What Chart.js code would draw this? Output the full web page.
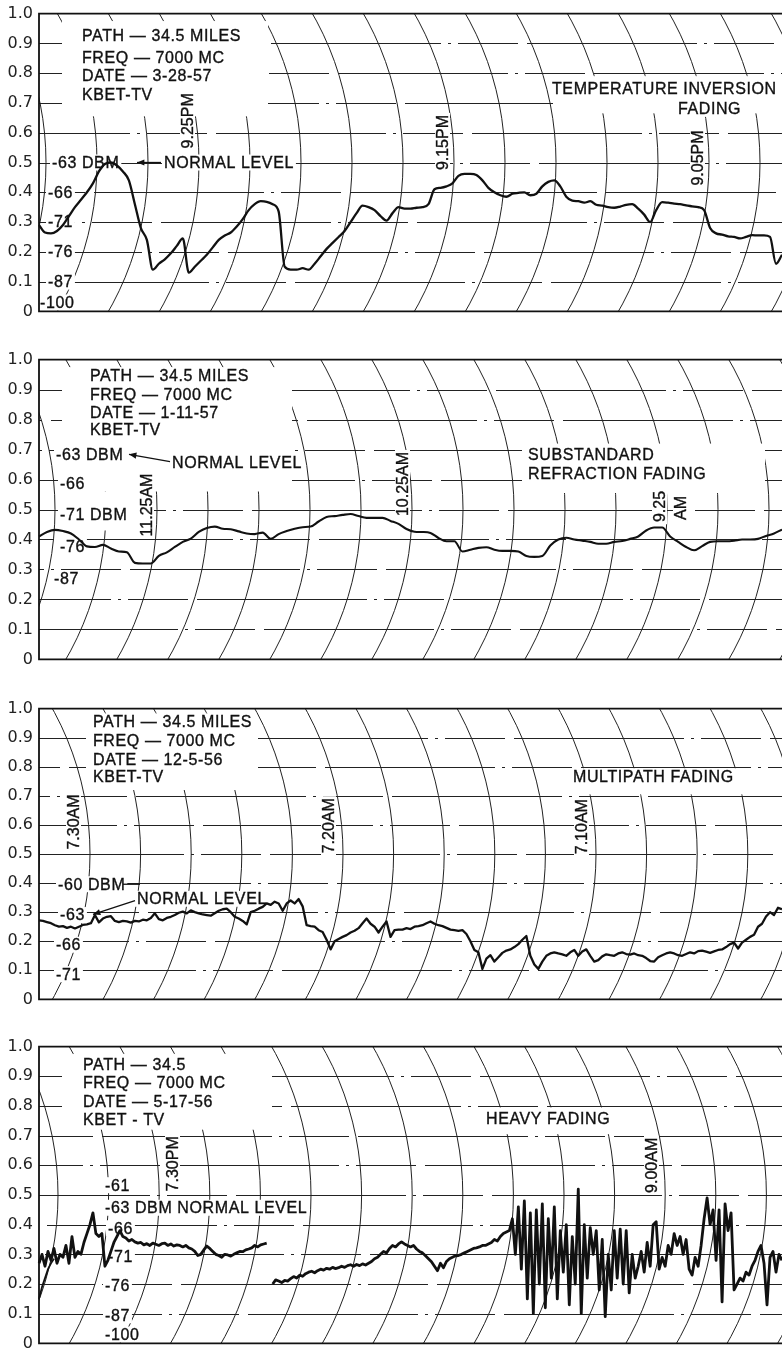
<!DOCTYPE html>
<html lang="en">
<head>
<meta charset="UTF-8">
<title>KBET-TV 7000 MC fading records</title>
<script src="https://cdn.jsdelivr.net/npm/chart.js"></script>
<style>
  html, body { margin: 0; padding: 0; background: #fff; }
  #page { position: relative; width: 782px; height: 1351px; overflow: hidden; background: #fff; }
  canvas { position: absolute; left: 0; }
</style>
</head>
<body>
<div id="page">
  <canvas id="c1"></canvas>
  <canvas id="c2"></canvas>
  <canvas id="c3"></canvas>
  <canvas id="c4"></canvas>
</div>
<script>
const p1Level = [0.29,0.265,0.262,0.27,0.29,0.32,0.35,0.375,0.40,0.43,
  0.47,0.495,0.50,0.49,0.47,0.44,0.36,0.28,0.24,0.14,
  0.16,0.175,0.195,0.22,0.245,0.13,0.15,0.17,0.19,0.215,
  0.24,0.255,0.265,0.285,0.31,0.34,0.36,0.37,0.368,0.36,
  0.335,0.15,0.14,0.14,0.145,0.14,0.16,0.185,0.21,0.23,
  0.25,0.27,0.30,0.33,0.355,0.35,0.34,0.32,0.305,0.33,
  0.35,0.345,0.345,0.348,0.35,0.36,0.41,0.415,0.42,0.43,
  0.455,0.462,0.462,0.458,0.44,0.415,0.40,0.39,0.385,0.395,
  0.398,0.40,0.39,0.395,0.42,0.435,0.44,0.42,0.385,0.372,
  0.37,0.365,0.37,0.358,0.355,0.35,0.348,0.352,0.358,0.36,
  0.345,0.325,0.30,0.34,0.367,0.365,0.362,0.36,0.356,0.353,
  0.35,0.34,0.28,0.262,0.258,0.252,0.25,0.245,0.25,0.256,
  0.255,0.255,0.25,0.16,0.19];

const p2Level = [0.41,0.425,0.432,0.428,0.42,0.40,0.377,0.375,0.382,0.37,
  0.36,0.357,0.322,0.32,0.32,0.345,0.357,0.375,0.392,0.403,
  0.425,0.438,0.443,0.436,0.434,0.427,0.42,0.418,0.423,0.402,
  0.418,0.428,0.436,0.441,0.443,0.46,0.475,0.478,0.482,0.485,
  0.478,0.472,0.472,0.472,0.462,0.452,0.435,0.426,0.425,0.422,
  0.405,0.394,0.394,0.36,0.366,0.372,0.374,0.366,0.362,0.362,
  0.36,0.345,0.342,0.345,0.38,0.40,0.406,0.40,0.396,0.392,
  0.386,0.386,0.392,0.395,0.402,0.41,0.43,0.44,0.44,0.41,
  0.392,0.375,0.364,0.378,0.392,0.394,0.394,0.396,0.40,0.40,
  0.402,0.412,0.42,0.433];

const p3Level = [0.272,0.27,0.266,0.262,0.255,0.25,0.252,0.246,0.25,0.244,
  0.25,0.256,0.258,0.262,0.29,0.265,0.278,0.284,0.286,0.27,
  0.266,0.27,0.268,0.264,0.27,0.268,0.274,0.272,0.28,0.296,
  0.276,0.272,0.28,0.284,0.29,0.298,0.302,0.296,0.306,0.30,
  0.296,0.292,0.29,0.288,0.296,0.305,0.31,0.312,0.30,0.284,
  0.278,0.27,0.258,0.30,0.305,0.312,0.318,0.33,0.325,0.336,
  0.33,0.305,0.33,0.34,0.33,0.345,0.32,0.255,0.252,0.25,
  0.238,0.232,0.205,0.172,0.20,0.208,0.215,0.221,0.23,0.236,
  0.245,0.262,0.278,0.26,0.25,0.23,0.25,0.268,0.215,0.238,
  0.24,0.24,0.245,0.242,0.25,0.252,0.255,0.262,0.268,0.26,
  0.255,0.252,0.246,0.24,0.238,0.236,0.238,0.225,0.20,0.17,
  0.162,0.105,0.14,0.152,0.13,0.145,0.16,0.168,0.172,0.18,
  0.19,0.205,0.218,0.15,0.12,0.105,0.13,0.15,0.158,0.162,
  0.158,0.155,0.15,0.162,0.17,0.15,0.165,0.172,0.15,0.13,
  0.135,0.148,0.155,0.152,0.15,0.158,0.162,0.156,0.154,0.158,
  0.152,0.15,0.142,0.132,0.13,0.145,0.152,0.158,0.162,0.158,
  0.152,0.15,0.156,0.162,0.158,0.166,0.168,0.164,0.16,0.165,
  0.17,0.172,0.18,0.19,0.195,0.175,0.195,0.205,0.215,0.222,
  0.25,0.26,0.285,0.30,0.29,0.315,0.31];

const p4Level = [0.27,0.30,0.26,0.31,0.28,0.32,0.27,0.30,0.29,0.33,
  0.27,0.36,0.29,0.31,0.30,0.34,0.37,0.40,0.44,0.37,
  0.36,0.37,0.26,0.28,0.31,0.34,0.36,0.38,0.36,0.355,
  0.345,0.35,0.342,0.338,0.34,0.332,0.336,0.33,0.338,0.334,
  0.33,0.336,0.338,0.33,0.335,0.328,0.332,0.33,0.325,0.33,
  0.322,0.318,0.31,0.296,0.30,0.315,0.328,0.32,0.31,0.30,
  0.296,0.29,0.30,0.298,0.294,0.30,0.305,0.31,0.309,0.315,
  0.318,0.322,0.33,0.325,0.332,0.335,0.338,null,0.20,0.214,
  0.21,0.205,0.212,0.21,0.218,0.225,0.22,0.23,0.226,0.235,
  0.24,0.243,0.238,0.245,0.25,0.247,0.253,0.25,0.256,0.252,
  0.255,0.26,0.256,0.262,0.265,0.26,0.266,0.262,0.268,0.264,
  0.27,0.276,0.285,0.29,0.30,0.31,0.305,0.32,0.33,0.325,
  0.335,0.342,0.335,0.33,0.325,0.33,0.318,0.31,0.305,0.295,
  0.285,0.275,0.26,0.245,0.27,0.255,0.276,0.285,0.29,0.295,
  0.296,0.30,0.305,0.31,0.315,0.32,0.322,0.325,0.33,0.33,
  0.335,0.34,0.35,0.345,0.36,0.37,0.375,0.38,0.42,0.30,
  0.46,0.25,0.48,0.15,0.44,0.10,0.45,0.20,0.47,0.12,
  0.42,0.22,0.46,0.15,0.38,0.24,0.40,0.13,0.36,0.20,
  0.52,0.10,0.40,0.22,0.39,0.30,0.38,0.18,0.35,0.09,
  0.30,0.18,0.38,0.22,0.385,0.20,0.38,0.17,0.30,0.22,
  0.26,0.31,0.24,0.34,0.26,0.40,0.41,0.25,0.29,0.26,
  0.33,0.30,0.37,0.33,0.36,0.30,0.35,0.25,0.23,0.29,
  0.26,0.33,0.42,0.49,0.40,0.45,0.28,0.45,0.14,0.47,
  0.38,0.44,0.18,0.20,0.22,0.21,0.24,0.23,0.26,0.28,
  0.31,0.33,0.27,0.13,0.29,0.31,0.24,0.30,0.28];
// pen lead-in at the start of the last strip
const p4LeadIn = [0.15,0.19,0.22,0.25,0.27,0.285];

const gridValues = [0.1,0.2,0.3,0.4,0.5,0.6,0.7,0.8,0.9];

// annotations (x in page px, v on the 0-1 scale)
const p1Notes = [
  {t:'PATH — 34.5 MILES', x:82, v:0.925},
  {t:'FREQ — 7000 MC', x:82, v:0.852},
  {t:'DATE — 3-28-57', x:82, v:0.793},
  {t:'KBET-TV', x:82, v:0.728},
  {t:'-63 DBM', x:52, v:0.5},
  {t:'NORMAL LEVEL', x:164, v:0.5},
  {t:'-66', x:48, v:0.4},
  {t:'-71', x:48, v:0.3},
  {t:'-76', x:48, v:0.2},
  {t:'-87', x:48, v:0.1},
  {t:'-100', x:40, v:0.03},
  {t:'9.25PM', x:188, v:0.64, rot:true},
  {t:'9.15PM', x:443, v:0.567, rot:true},
  {t:'9.05PM', x:698, v:0.515, rot:true},
  {t:'TEMPERATURE INVERSION', x:552, v:0.748},
  {t:'FADING', x:678, v:0.68}
];
const p2Notes = [
  {t:'PATH — 34.5 MILES', x:90, v:0.945},
  {t:'FREQ — 7000 MC', x:90, v:0.883},
  {t:'DATE — 1-11-57', x:90, v:0.824},
  {t:'KBET-TV', x:90, v:0.765},
  {t:'-63 DBM', x:56, v:0.684},
  {t:'NORMAL LEVEL', x:172, v:0.655},
  {t:'-66', x:60, v:0.586},
  {t:'-71 DBM', x:60, v:0.482},
  {t:'-76', x:60, v:0.375},
  {t:'-87', x:54, v:0.27},
  {t:'11.25AM', x:147, v:0.515, rot:true},
  {t:'10.25AM', x:403, v:0.585, rot:true},
  {t:'SUBSTANDARD', x:528, v:0.684},
  {t:'REFRACTION FADING', x:528, v:0.619},
  {t:'9.25', x:660, v:0.51, rot:true},
  {t:'AM', x:681, v:0.505, rot:true}
];
const p3Notes = [
  {t:'PATH — 34.5 MILES', x:93, v:0.956},
  {t:'FREQ — 7000 MC', x:93, v:0.889},
  {t:'DATE — 12-5-56', x:93, v:0.826},
  {t:'KBET-TV', x:93, v:0.765},
  {t:'7.30AM', x:74, v:0.61, rot:true},
  {t:'7.20AM', x:329, v:0.597, rot:true},
  {t:'7.10AM', x:582, v:0.594, rot:true},
  {t:'MULTIPATH FADING', x:573, v:0.765},
  {t:'-60 DBM', x:58, v:0.396},
  {t:'NORMAL LEVEL', x:137, v:0.346},
  {t:'-63', x:60, v:0.29},
  {t:'-66', x:56, v:0.188},
  {t:'-71', x:56, v:0.087}
];
const p4Notes = [
  {t:'PATH — 34.5', x:83, v:0.941},
  {t:'FREQ — 7000 MC', x:83, v:0.878},
  {t:'DATE — 5-17-56', x:83, v:0.815},
  {t:'KBET - TV', x:83, v:0.753},
  {t:'7.30PM', x:173, v:0.605, rot:true},
  {t:'-61', x:105, v:0.533},
  {t:'-63 DBM NORMAL LEVEL', x:105, v:0.457},
  {t:'-66', x:108, v:0.388},
  {t:'-71', x:108, v:0.293},
  {t:'-76', x:105, v:0.194},
  {t:'-87', x:105, v:0.095},
  {t:'-100', x:105, v:0.03},
  {t:'HEAVY FADING', x:486, v:0.757},
  {t:'9.00AM', x:652, v:0.6, rot:true}
];

const ink = '#111';
const arcRadius = 300;

function paper(cfg) {
  return {
    id: 'paper' + cfg.id,
    beforeDatasetsDraw(chart) {
      const ctx = chart.ctx, a = chart.chartArea, y = chart.scales.y;
      ctx.save();
      ctx.strokeStyle = '#222';
      ctx.lineWidth = 1;
      // horizontal chart-paper lines
      gridValues.forEach((v, i) => {
        const py = Math.round(y.getPixelForValue(v)) + 0.5;
        ctx.setLineDash([170, 7, 3, 7, 60, 9]);
        ctx.lineDashOffset = i * 67 + cfg.dashShift;
        ctx.beginPath();
        ctx.moveTo(a.left, py);
        ctx.lineTo(a.right, py);
        ctx.stroke();
      });
      ctx.setLineDash([]);
      // curved time lines
      ctx.save();
      ctx.beginPath();
      ctx.rect(a.left, a.top, a.right - a.left, a.bottom - a.top);
      ctx.clip();
      const cy = y.getPixelForValue(0.5);
      for (let bx = cfg.arcStart; bx < a.right + 60; bx += cfg.arcStep) {
        ctx.beginPath();
        ctx.arc(bx - arcRadius, cy, arcRadius, -Math.PI / 2, Math.PI / 2);
        ctx.stroke();
      }
      ctx.restore();
      // erased areas round the lettering
      ctx.fillStyle = '#fff';
      cfg.masks.forEach(m => {
        const t = y.getPixelForValue(m[2]), b = y.getPixelForValue(m[3]);
        ctx.fillRect(m[0], t, m[1] - m[0], b - t);
      });
      // lettering
      ctx.textBaseline = 'middle';
      ctx.lineWidth = 0.35;
      ctx.strokeStyle = ink;
      cfg.notes.forEach(n => {
        const py = y.getPixelForValue(n.v);
        ctx.font = n.rot ? '16px "Liberation Sans", Arial, sans-serif' : '16px "Liberation Sans", Arial, sans-serif';
        ctx.letterSpacing = n.rot ? '0px' : '0.6px';
        const w = ctx.measureText(n.t).width;
        if (n.rot) {
          ctx.save();
          ctx.translate(n.x, py);
          ctx.rotate(-Math.PI / 2);
          ctx.fillStyle = '#fff';
          ctx.fillRect(-w / 2 - 2, -8, w + 4, 15);
          ctx.fillStyle = ink;
          ctx.textAlign = 'center';
          ctx.fillText(n.t, 0, 1);
          ctx.strokeText(n.t, 0, 1);
          ctx.restore();
        } else {
          ctx.fillStyle = '#fff';
          ctx.fillRect(n.x - 2, py - 8, w + 4, 16);
          ctx.fillStyle = ink;
          ctx.textAlign = 'left';
          ctx.fillText(n.t, n.x, py + 1);
          ctx.strokeText(n.t, n.x, py + 1);
        }
      });
      ctx.letterSpacing = '0px';
      // leader lines and arrows
      ctx.fillStyle = ink;
      ctx.lineWidth = 1.3;
      cfg.leaders.forEach(l => {
        const y1 = y.getPixelForValue(l[1]), y2 = y.getPixelForValue(l[3]);
        ctx.beginPath();
        ctx.moveTo(l[0], y1);
        ctx.lineTo(l[2], y2);
        ctx.stroke();
        if (l[4]) {
          const ang = Math.atan2(y2 - y1, l[2] - l[0]);
          ctx.beginPath();
          ctx.moveTo(l[2], y2);
          ctx.lineTo(l[2] - 8 * Math.cos(ang - 0.4), y2 - 8 * Math.sin(ang - 0.4));
          ctx.lineTo(l[2] - 8 * Math.cos(ang + 0.4), y2 - 8 * Math.sin(ang + 0.4));
          ctx.closePath();
          ctx.fill();
        }
      });
      // frame
      ctx.lineWidth = 1.8;
      ctx.beginPath();
      ctx.moveTo(a.right, a.top);
      ctx.lineTo(a.left, a.top);
      ctx.lineTo(a.left, a.bottom);
      ctx.lineTo(a.right, a.bottom);
      ctx.stroke();
      ctx.restore();
    }
  };
}

const panels = [
  {id:'c1', top:10, bottom:315, values:p1Level, width:2.3, smooth:true, arcStart:46, arcStep:51, dashShift:0,
   notes:p1Notes, masks:[[62,268,0.975,0.655],[553,782,0.79,0.665]], leaders:[[161,0.5,137,0.5,true]]},
  {id:'c2', top:356, bottom:663, values:p2Level, width:2.1, smooth:true, arcStart:55, arcStep:51, dashShift:31,
   notes:p2Notes, masks:[[62,292,0.975,0.56],[62,150,0.56,0.43],[522,765,0.72,0.555]], leaders:[[170,0.66,129,0.684,true]]},
  {id:'c3', top:705, bottom:1003, values:p3Level, width:2.3, smooth:false, arcStart:39.4, arcStep:50.6, dashShift:13,
   notes:p3Notes, masks:[[86,258,0.975,0.72],[560,770,0.795,0.705]], leaders:[[123,0.396,140,0.396,false],[135,0.34,93,0.292,true]]},
  {id:'c4', top:1043, bottom:1347, values:p4Level, width:2.8, smooth:false, arcStart:58, arcStep:50.6, dashShift:47,
   notes:p4Notes, masks:[[62,272,0.975,0.72],[470,625,0.795,0.705]], leaders:[]}
];

panels.forEach(p => {
  const pad = 12;
  const canvas = document.getElementById(p.id);
  canvas.width = 782;
  canvas.height = p.bottom - p.top + 2 * pad;
  canvas.style.top = (p.top - pad) + 'px';

  const datasets = [{
    data: p.values,
    borderColor: ink,
    borderWidth: p.width,
    pointRadius: 0,
    spanGaps: false,
    borderJoinStyle: 'round',
    cubicInterpolationMode: p.smooth ? 'monotone' : 'default',
    tension: 0
  }];
  if (p.id === 'c4') {
    datasets.push({
      data: p4LeadIn,
      borderColor: ink,
      borderWidth: 1.8,
      pointRadius: 0,
      tension: 0
    });
  }

  new Chart(canvas, {
    type: 'line',
    data: { labels: p.values.map((_, i) => i), datasets: datasets },
    options: {
      responsive: false,
      animation: false,
      devicePixelRatio: 1,
      layout: { padding: { top: pad, bottom: pad, left: 0, right: 0 } },
      plugins: { legend: { display: false }, tooltip: { enabled: false } },
      scales: {
        x: { display: false, offset: false },
        y: {
          min: 0, max: 1,
          afterFit(scale) { scale.width = 39; },
          grid: { display: false, drawTicks: false },
          border: { display: false },
          ticks: {
            stepSize: 0.1,
            padding: 6,
            color: '#222',
            font: { family: '"DejaVu Sans", sans-serif', size: 16 },
            callback: v => (v === 0 ? '0' : v.toFixed(1))
          }
        }
      }
    },
    plugins: [paper(p)]
  });
});
</script>
</body>
</html>
